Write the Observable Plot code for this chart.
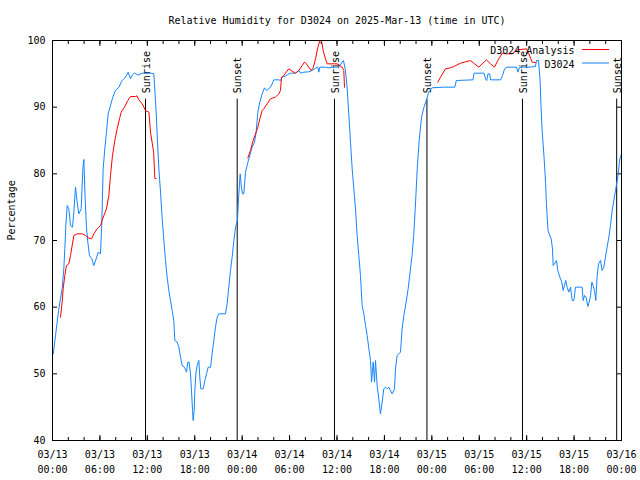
<!DOCTYPE html>
<html><head><meta charset="utf-8">
<script src="https://cdn.jsdelivr.net/npm/d3@7"></script>
<script src="https://cdn.jsdelivr.net/npm/@observablehq/plot@0.6"></script>
<style>body{margin:0;background:#fff}</style>
</head><body><div id="chart"></div>
<script>
const titleText = "Relative Humidity for D3024 on 2025-Mar-13 (time in UTC)";
const yLabelText = "Percentage";
const seriesNames = ["D3024 Analysis", "D3024"];
const seriesColors = ["#ff0000", "#1485ff"];
const startMs = Date.UTC(2025, 2, 13, 0, 0);
const spanHours = 72;
const yTicks = [40, 50, 60, 70, 80, 90, 100];
const majorTickHours = [0, 6, 12, 18, 24, 30, 36, 42, 48, 54, 60, 66, 72];
const minorTickHours = d3.range(0, 73, 2);

// D3024 observations (hours after 03/13 00:00 UTC, percent)
const blueHours = [0.1,0.38,0.59,0.8,1.01,1.22,1.43,1.56,1.69,1.86,2.07,2.28,2.53,2.7,2.91,3.12,3.33,3.63,3.84,3.97,4.13,4.3,4.47,4.68,4.98,5.23,5.53,5.78,6.07,6.24,6.41,6.62,6.83,7.04,7.34,7.63,7.97,8.4,8.82,9.24,9.58,9.87,10.08,10.38,10.8,11.35,12.5,12.82,13.12,13.29,13.46,13.67,13.88,
14.09,14.3,14.51,14.72,14.93,15.14,15.35,15.48,15.77,15.99,16.2,16.41,16.7,16.96,17.12,17.29,17.46,17.59,17.72,17.8,17.93,18.01,18.14,18.3,18.52,18.64,18.77,19.07,19.28,19.49,19.7,20.0,20.2,20.41,20.62,20.84,21.05,21.89,22.1,22.31,22.52,22.73,22.95,23.16,23.4,
23.55,23.75,23.9,24.05,24.21,24.42,24.84,25.26,25.56,25.77,25.98,26.23,26.53,26.82,27.08,27.37,27.58,27.8,28.0,28.64,28.85,29.06,29.48,29.69,30.11,30.75,31.17,31.38,31.8,32.43,32.85,33.28,33.57,33.7,33.83,34.54,34.97,35.39,36.02,
36.44,36.65,36.82,37.07,37.29,37.49,37.71,37.92,38.13,38.34,38.55,38.76,38.97,39.18,39.4,39.61,39.82,40.03,40.24,40.37,40.58,40.75,40.87,41.08,41.29,41.5,41.71,41.92,42.14,42.35,42.56,42.77,42.98,43.28,43.4,43.61,44.03,44.24,44.46,44.75,45.0,45.3,45.5,45.7,45.9,46.15,46.4,46.7,47.0,47.3,47.6,48.0,
49.5,50.9,51.1,53.2,53.35,54.6,54.8,54.95,55.1,55.3,55.45,56.7,56.95,57.2,57.5,58.7,58.9,59.05,59.6,60.3,61.1,61.25,61.5,61.7,61.8,61.96,62.2,62.4,62.5,62.7,
62.85,63.1,63.27,63.35,63.52,63.77,63.94,64.2,64.45,64.62,64.78,64.95,65.12,65.33,65.55,65.76,65.97,66.18,66.81,67.02,67.15,67.32,67.53,67.74,67.91,68.08,68.25,68.41,68.58,68.75,68.92,69.09,69.34,69.55,69.76,69.97,70.18,70.4,70.61,70.82,71.24,71.53,71.79,72.0];
const blueValues = [53.0,55.75,57.75,59.75,61.25,62.75,65.75,68.75,72.25,75.25,74.75,72.25,72.0,74.25,78.0,75.75,74.0,74.75,80.75,82.15,76.25,72.0,69.75,67.75,67.25,66.25,67.25,68.25,68.0,72.75,80.75,83.75,86.25,89.0,90.25,91.5,92.5,93.0,94.0,94.5,95.25,94.25,94.8,95.15,94.8,95.1,95.1,95.0,89.25,84.75,80.75,77.25,73.25,
70,67,64.5,62.5,61,59.5,58,55,54.75,54,52.5,51.25,51,50.25,51.75,51.75,50,47.5,44.5,43.0,44.5,47.5,50,51.25,52,49.5,47.75,47.75,49,50,51,51,53,55,57,58.5,59,59,60.5,63,65.5,67.5,70,72,73,
76.5,80,78,77,77,80.25,82.25,84,84.75,86.25,89.25,90.75,92,92.9,92.5,92.75,93,93.5,94.1,94.1,94,94.5,94.65,94.85,95.1,95.1,95.5,95.1,95.25,95.3,95.5,95.85,96.0,95.25,96,96,95.9,96,96,
96.3,96.75,97,95.5,92.75,89,84.75,80.75,77.75,74.75,70.75,67.75,64.75,60.25,59.0,57.25,55.75,53.75,52.0,48.75,51.75,48.75,52,48.25,46.25,44.0,45.75,47.75,48.0,47.75,48,47.5,47.0,47.75,50.75,52.75,53.25,56.75,58.75,60.75,62.75,65.75,67.75,70.75,74.75,80.75,85,88.5,90,91,92.25,92.9,
93,93,94,94.1,95.1,95.1,94.25,94,95,95,94.1,94.1,94.75,95.75,96,96,95.25,95.9,96,96,96.1,97,97,94,90.5,86.5,82.5,78.5,75.5,71.5,
71.0,70.25,68.75,66.25,66.5,67.0,65.5,64.5,63.75,62.5,63.25,64.0,63.0,62.25,63,61,61,63,63,63,61,61.75,61.5,60.1,60.75,61.75,63.75,63.25,62.5,61,64.75,66.5,67,65.5,66,67.5,69,70.5,72.25,74.5,77.5,79.5,82.25,83];

// D3024 Analysis (three runs; NaN marks the gaps between them)
const redHours = [1.01,1.22,1.35,1.56,1.77,2.07,2.28,2.49,2.7,3.12,3.76,4.18,4.6,4.94,5.23,5.65,6.07,6.28,6.5,6.83,7.13,7.34,7.59,7.85,8.18,8.48,8.69,9.1,9.53,9.87,10.5,10.7,10.93,11.35,11.77,12.2,12.4,12.6,12.8,12.95,13.1,
13.5,
24.72,25.05,25.39,25.69,25.98,26.24,26.53,26.74,27.16,27.58,28.2,28.64,28.85,28.98,29.27,29.48,29.9,30.33,30.75,31.17,31.59,31.89,32.14,32.43,32.73,32.99,33.28,33.58,33.83,34.04,34.25,34.54,34.75,36.0,36.65,36.86,36.95,
37.5,
48.76,49.1,49.73,50.36,50.78,51.63,52.26,52.89,53.4,53.95,54.37,54.91,55.42,55.93,56.35,56.9,57.45,58.16,58.8,59.98,60.27,60.7,61.12];
const redValues = [58.5,60.75,62.75,64.75,66.25,66.5,67.75,69.25,70.75,71.0,71.0,70.75,70.35,70.25,71.0,71.75,72.25,73.0,73.75,74.75,76.75,79.75,82.75,84.75,86.75,88.25,89.25,90.0,91.0,91.6,91.6,91.7,91.1,90.5,89.5,89.25,86.25,84.75,83.25,79.3,79.3,
NaN,
82.4,83.5,85,86,87,88.25,89.5,89.75,90.5,91.25,91.5,92,92.5,94.5,94.75,95.1,95.75,95.4,95.1,95.5,96.25,96.75,96.5,96,95.5,95.9,97.25,99,100,100,98.5,97.25,96.5,96.5,96,95.5,93,
NaN,
93.75,94.5,95.75,95.9,96.1,96.6,96.8,97,96.5,96,96.5,97.1,96.5,96,97,98.1,98,98,98.6,98.75,98,96.75,96.7];

// Sun events (hours after 03/13 00:00 UTC)
const eventHours = [11.77, 23.37, 35.68, 47.38, 59.47, 71.39];
const eventLabels = ["Sunrise", "Sunset", "Sunrise", "Sunset", "Sunrise", "Sunset"];
const eventTop = 91.2;

const toDate = h => new Date(startMs + h * 3600e3);
const blue = blueHours.map((h, i) => ({t: toDate(h), v: blueValues[i]}));
const red = redHours.map((h, i) => ({t: toDate(h), v: redValues[i]}));
const events = eventHours.map((h, i) => ({t: toDate(h), label: eventLabels[i]}));
const majorTicks = majorTickHours.map(toDate);
const minorTicks = minorTickHours.map(toDate);
const fmtDay = d3.utcFormat("%m/%d"), fmtTime = d3.utcFormat("%H:%M");
const blank = () => "";

function legendMark(index, scales, values, dims) {
  const g = d3.create("svg:g");
  const right = dims.width - dims.marginRight;
  [0, 1].forEach(i => {
    const y = dims.marginTop + 9.5 + i * 13.5;
    g.append("line").attr("x1", right - 39).attr("x2", right - 12)
      .attr("y1", y).attr("y2", y).attr("stroke", seriesColors[i]).attr("stroke-width", 1);
  });
  return g.node();
}

const chart = Plot.plot({
  width: 640, height: 480,
  marginLeft: 52, marginRight: 19, marginTop: 40, marginBottom: 40,
  style: {fontFamily: "'DejaVu Sans Mono', monospace", fontSize: "10px", background: "#fff", color: "#000"},
  x: {type: "utc", domain: [toDate(0), toDate(spanHours)]},
  y: {domain: [40, 100]},
  marks: [
    Plot.axisY(yTicks, {anchor: "left", tickSize: 0, tickPadding: 7, label: null, fontSize: 10}),
    Plot.axisY(yTicks, {anchor: "left", tickSize: -5, tickFormat: blank, label: null}),
    Plot.axisY(yTicks, {anchor: "right", tickSize: -5, tickFormat: blank, label: null}),
    Plot.axisX(majorTicks, {anchor: "bottom", tickSize: 0, tickPadding: 7, label: null, lineHeight: 1.5, fontSize: 10,
      tickFormat: d => fmtDay(d) + "\n" + fmtTime(d)}),
    Plot.axisX(majorTicks, {anchor: "bottom", tickSize: -5, tickFormat: blank, label: null}),
    Plot.axisX(majorTicks, {anchor: "top", tickSize: -5, tickFormat: blank, label: null}),
    Plot.axisX(minorTicks, {anchor: "bottom", tickSize: -3, tickFormat: blank, label: null}),
    Plot.axisX(minorTicks, {anchor: "top", tickSize: -3, tickFormat: blank, label: null}),
    Plot.ruleX(events, {x: "t", y1: 40, y2: eventTop, stroke: "#000", strokeWidth: 1}),
    Plot.text(events, {x: "t", y: eventTop, text: "label", rotate: -90, textAnchor: "start", dy: -6, dx: 1, fontSize: 10, fill: "#000"}),
    Plot.line(blue, {x: "t", y: "v", stroke: seriesColors[1], strokeWidth: 1}),
    Plot.line(red, {x: "t", y: "v", stroke: seriesColors[0], strokeWidth: 1}),
    Plot.frame({stroke: "#000", strokeWidth: 1}),
    Plot.text([seriesNames[0]], {frameAnchor: "top-right", dx: -47, dy: 6.5, textAnchor: "end", fontSize: 10, fill: "#000"}),
    Plot.text([seriesNames[1]], {frameAnchor: "top-right", dx: -47, dy: 20, textAnchor: "end", fontSize: 10, fill: "#000"}),
    legendMark,
    Plot.text([titleText], {frameAnchor: "top", dy: -24, fontSize: 10, fill: "#000"}),
    Plot.text([yLabelText], {frameAnchor: "left", dx: -41, rotate: -90, fontSize: 10, fill: "#000"})
  ]
});
document.getElementById("chart").appendChild(chart);
</script>
</body></html>
